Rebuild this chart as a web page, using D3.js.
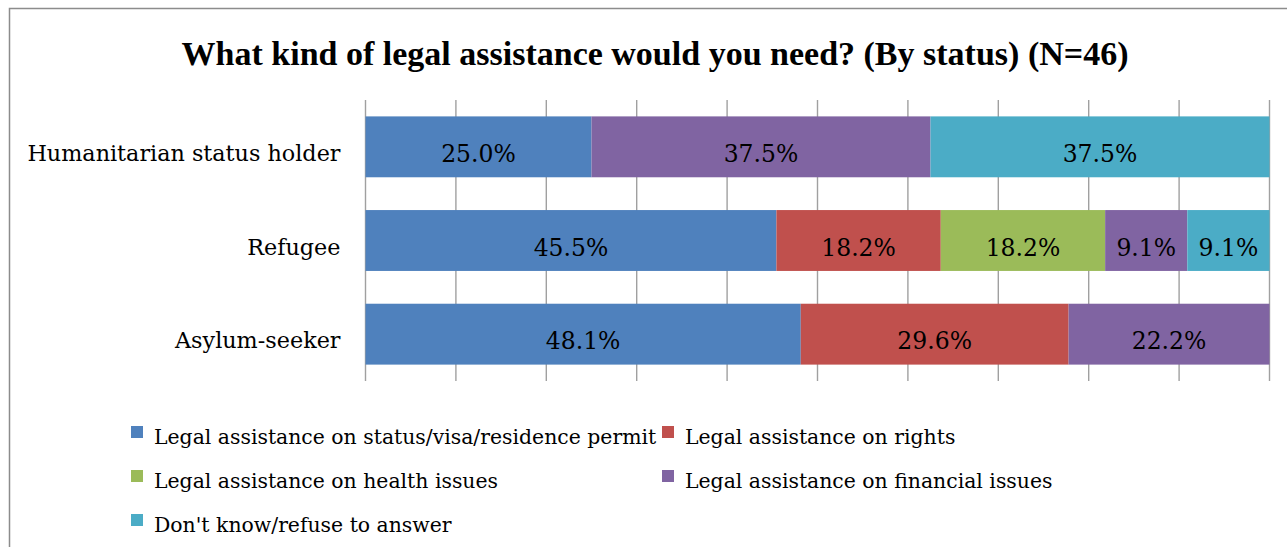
<!DOCTYPE html>
<html>
<head>
<meta charset="utf-8">
<script src="https://cdn.jsdelivr.net/npm/d3@7"></script>
<style>
  html, body { margin: 0; padding: 0; background: #fff; }
  svg { display: block; }
</style>
</head>
<body>
<svg id="chart" width="1287" height="547"></svg>
<script>
// Respondent groups (top to bottom)
const categories = ["Humanitarian status holder", "Refugee", "Asylum-seeker"];

// Answer options, in stacking order
const seriesNames = [
  "Legal assistance on status/visa/residence permit",
  "Legal assistance on rights",
  "Legal assistance on health issues",
  "Legal assistance on financial issues",
  "Don't know/refuse to answer"
];

// Share of each group (%) per answer option
const statusVisa   = [25.0, 45.5, 48.1];
const rights       = [0,    18.2, 29.6];
const health       = [0,    18.2, 0];
const financial    = [37.5, 9.1,  22.2];
const dontKnow     = [37.5, 9.1,  0];

const seriesColors = ["#4F81BD", "#C0504D", "#9BBB59", "#8064A2", "#4BACC6"];
const xTicks = [0, 10, 20, 30, 40, 50, 60, 70, 80, 90, 100];
const titleText = "What kind of legal assistance would you need? (By status) (N=46)";

const seriesValues = [statusVisa, rights, health, financial, dontKnow];
const rows = categories.map((c, i) => {
  const r = { category: c };
  seriesNames.forEach((s, j) => { r[s] = seriesValues[j][i]; });
  return r;
});

const svg = d3.select("#chart");
const serif = "'DejaVu Serif', serif";

// outer chart frame
svg.append("rect")
  .attr("x", 9.5).attr("y", 8.5)
  .attr("width", 1300).attr("height", 560)
  .attr("fill", "none")
  .attr("stroke", "#8c8c8c")
  .attr("stroke-width", 1.5);

svg.append("text")
  .attr("x", 655).attr("y", 65)
  .attr("text-anchor", "middle")
  .attr("font-family", "'Liberation Serif', serif")
  .attr("font-weight", "bold")
  .attr("font-size", 34)
  .attr("fill", "#000")
  .text(titleText);

const plot = { left: 365.5, right: 1269.5, top: 100, bottom: 381 };

const x = d3.scaleLinear().domain([0, 100]).range([plot.left, plot.right]);
const y = d3.scaleBand().domain(categories).range([plot.top, plot.bottom])
  .paddingInner(0.35).paddingOuter(0.175);

// vertical gridlines
svg.append("g")
  .selectAll("line")
  .data(xTicks)
  .join("line")
  .attr("x1", d => x(d)).attr("x2", d => x(d))
  .attr("y1", plot.top).attr("y2", plot.bottom)
  .attr("stroke", "#a0a0a0")
  .attr("stroke-width", 1.4);

// 100% stacked bars
const stack = d3.stack().keys(seriesNames).offset(d3.stackOffsetExpand);
const stacked = stack(rows);

const layers = svg.append("g")
  .selectAll("g")
  .data(stacked)
  .join("g")
  .attr("fill", (d, i) => seriesColors[i]);

layers.selectAll("rect")
  .data(d => d.filter(p => p.data[d.key] > 0))
  .join("rect")
  .attr("x", p => x(p[0] * 100))
  .attr("width", p => x(p[1] * 100) - x(p[0] * 100))
  .attr("y", p => y(p.data.category))
  .attr("height", y.bandwidth());

// value labels
layers.each(function (layer) {
  d3.select(this).selectAll("text")
    .data(layer.filter(p => p.data[layer.key] > 0))
    .join("text")
    .attr("x", p => (x(p[0] * 100) + x(p[1] * 100)) / 2)
    .attr("y", p => y(p.data.category) + y.bandwidth() / 2 + 15)
    .attr("text-anchor", "middle")
    .attr("font-family", serif)
    .attr("font-size", 23.5)
    .attr("fill", "#000")
    .text(p => p.data[layer.key].toFixed(1) + "%");
});

// category axis labels
const yAxis = d3.axisLeft(y).tickSize(0).tickPadding(25);
const yg = svg.append("g").attr("transform", `translate(${plot.left},0)`).call(yAxis);
yg.select(".domain").remove();
yg.selectAll("text")
  .attr("font-family", serif)
  .attr("font-size", 22.3)
  .attr("fill", "#000")
  .attr("dy", null)
  .attr("y", 14);

// legend
const legendPos = [
  { x: 131, y: 426 }, { x: 662, y: 426 },
  { x: 131, y: 470 }, { x: 662, y: 470 },
  { x: 131, y: 514 }
];
const legend = svg.append("g")
  .selectAll("g")
  .data(seriesNames)
  .join("g")
  .attr("transform", (d, i) => `translate(${legendPos[i].x},${legendPos[i].y})`);

legend.append("rect")
  .attr("width", 12).attr("height", 12)
  .attr("fill", (d, i) => seriesColors[i]);

legend.append("text")
  .attr("x", 23).attr("y", 18)
  .attr("font-family", serif)
  .attr("font-size", 20.4)
  .attr("fill", "#000")
  .text(d => d);
</script>
</body>
</html>
